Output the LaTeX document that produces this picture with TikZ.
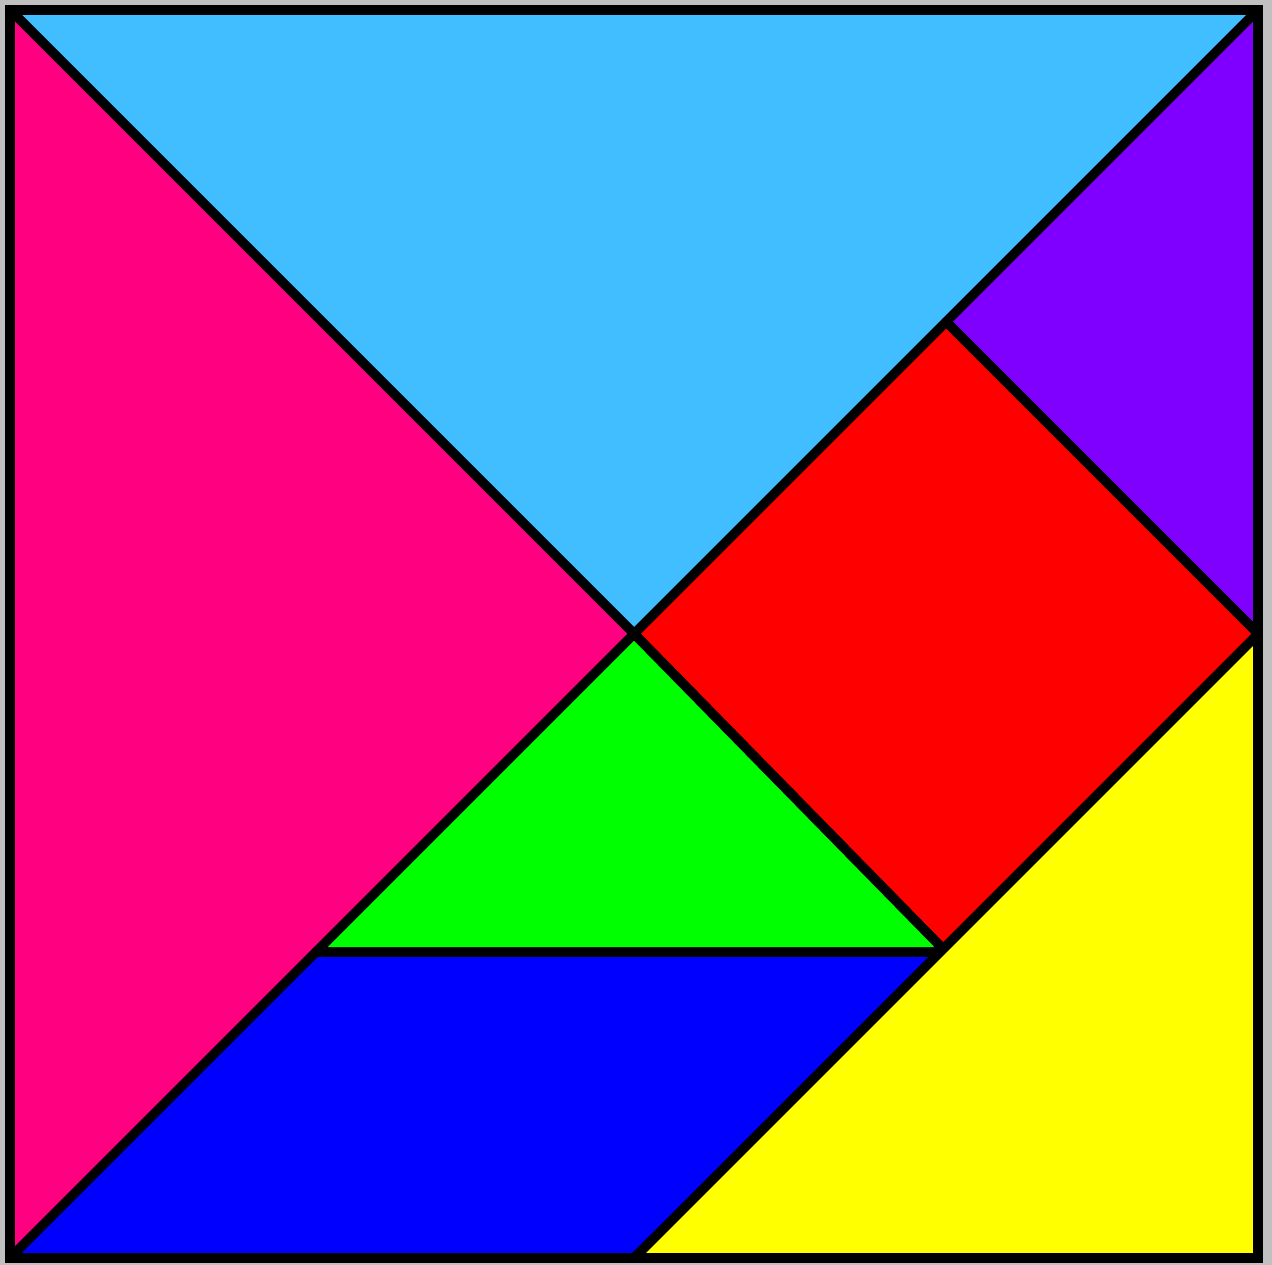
\documentclass[tikz,border=0pt]{standalone}
\usepackage{xcolor}
\usepackage{tikz}
\usetikzlibrary{calc}
\definecolor{TanCyan}{RGB}{64,190,255}
\definecolor{TanPink}{RGB}{255,0,128}
\definecolor{TanPurple}{RGB}{128,0,255}
\definecolor{TanRed}{RGB}{255,0,0}
\definecolor{TanGreen}{RGB}{0,255,0}
\definecolor{TanBlue}{RGB}{0,0,255}
\definecolor{TanYellow}{RGB}{255,255,0}
\definecolor{FrameGray}{RGB}{192,192,192}
\tikzset{piece/.style={draw=black, line width=2.7pt, line join=round, fill=#1}}

\begin{document}
\begin{tikzpicture}
			\fill[FrameGray] (0,0) rectangle (12.72,12.65);
			\useasboundingbox (0,0) rectangle (12.72,12.65);
			\begin{scope}[shift={(0.10,0.07)}, scale=3.12]
			\coordinate (BL) at (0,0);
			\coordinate (BR) at (4,0);
			\coordinate (TR) at (4,4);
			\coordinate (TL) at (0,4);
			\coordinate (C) at (2,2);
			\coordinate (Q) at (3,3);
			\coordinate (R) at (4,2);
			\coordinate (S) at (3,0.98);
			\coordinate (G) at (0.98,0.98);
			\coordinate (M) at (2,0);
			\fill[white] (BL) rectangle (TR);
			\draw[piece=TanCyan] (TL) -- (TR) -- (C) -- cycle;
			\draw[piece=TanPink] (TL) -- (C) -- (BL) -- cycle;
			\draw[piece=TanPurple] (TR) -- (R) -- (Q) -- cycle;
			\draw[piece=TanRed] (C) -- (Q) -- (R) -- (S) -- cycle;
			\draw[piece=TanGreen] (C) -- (S) -- (G) -- cycle;
			\draw[piece=TanBlue] (G) -- (S) -- (M) -- (BL) -- cycle;
			\draw[piece=TanYellow] (R) -- (BR) -- (M) -- cycle;
			\draw[black, line width=2.9pt] (BL) rectangle (TR);
			\end{scope}
		\end{tikzpicture}
\end{document}
